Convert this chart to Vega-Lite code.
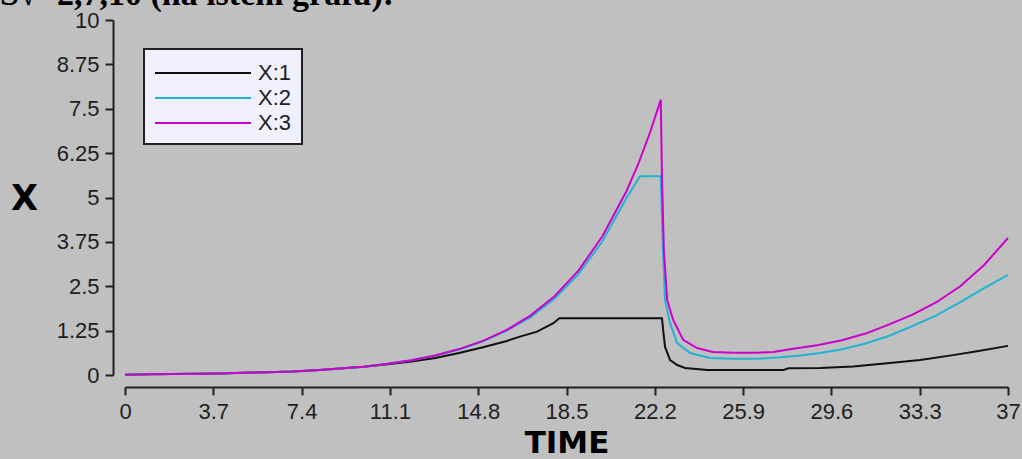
{
  "$schema": "https://vega.github.io/schema/vega-lite/v6.json",
  "autosize": {"type": "none"},
  "width": 883,
  "height": 355,
  "padding": {"left": 125, "top": 20, "right": 14, "bottom": 84},
  "background": "#c0c0c0",
  "title": {
    "text": "S√=2,7,10 (na istem grafu):",
    "anchor": "start",
    "frame": "group",
    "font": "Liberation Serif",
    "fontSize": 34,
    "fontWeight": "bold",
    "color": "#000000",
    "dx": -125,
    "dy": 30,
    "offset": 0,
    "baseline": "alphabetic"
  },
  "data": {
    "values": [
      {"t": 0, "s": "X:1", "v": 0.01}, {"t": 1, "s": "X:1", "v": 0.02}, {"t": 2, "s": "X:1", "v": 0.025}, {"t": 3, "s": "X:1", "v": 0.035},
      {"t": 4, "s": "X:1", "v": 0.045}, {"t": 5, "s": "X:1", "v": 0.06}, {"t": 6, "s": "X:1", "v": 0.08}, {"t": 7, "s": "X:1", "v": 0.1},
      {"t": 8, "s": "X:1", "v": 0.135}, {"t": 9, "s": "X:1", "v": 0.18}, {"t": 10, "s": "X:1", "v": 0.23}, {"t": 11, "s": "X:1", "v": 0.3},
      {"t": 12, "s": "X:1", "v": 0.38}, {"t": 13, "s": "X:1", "v": 0.48}, {"t": 14, "s": "X:1", "v": 0.62}, {"t": 15, "s": "X:1", "v": 0.78},
      {"t": 16, "s": "X:1", "v": 0.96}, {"t": 16.55, "s": "X:1", "v": 1.08}, {"t": 17.27, "s": "X:1", "v": 1.22}, {"t": 17.95, "s": "X:1", "v": 1.46},
      {"t": 18.2, "s": "X:1", "v": 1.6}, {"t": 22.5, "s": "X:1", "v": 1.6}, {"t": 22.55, "s": "X:1", "v": 1.27}, {"t": 22.63, "s": "X:1", "v": 0.79},
      {"t": 22.84, "s": "X:1", "v": 0.42}, {"t": 23.14, "s": "X:1", "v": 0.28}, {"t": 23.47, "s": "X:1", "v": 0.2}, {"t": 24.4, "s": "X:1", "v": 0.14},
      {"t": 27.6, "s": "X:1", "v": 0.14}, {"t": 27.8, "s": "X:1", "v": 0.19}, {"t": 29.13, "s": "X:1", "v": 0.2}, {"t": 30.51, "s": "X:1", "v": 0.24},
      {"t": 31.94, "s": "X:1", "v": 0.33}, {"t": 33.32, "s": "X:1", "v": 0.42}, {"t": 34.7, "s": "X:1", "v": 0.56}, {"t": 35.83, "s": "X:1", "v": 0.68},
      {"t": 37, "s": "X:1", "v": 0.82},

      {"t": 0, "s": "X:2", "v": 0.01}, {"t": 1, "s": "X:2", "v": 0.02}, {"t": 2, "s": "X:2", "v": 0.025}, {"t": 3, "s": "X:2", "v": 0.035},
      {"t": 4, "s": "X:2", "v": 0.045}, {"t": 5, "s": "X:2", "v": 0.06}, {"t": 6, "s": "X:2", "v": 0.08}, {"t": 7, "s": "X:2", "v": 0.1},
      {"t": 8, "s": "X:2", "v": 0.135}, {"t": 9, "s": "X:2", "v": 0.18}, {"t": 10, "s": "X:2", "v": 0.235}, {"t": 11, "s": "X:2", "v": 0.315},
      {"t": 12, "s": "X:2", "v": 0.415}, {"t": 13, "s": "X:2", "v": 0.55}, {"t": 14, "s": "X:2", "v": 0.72}, {"t": 15, "s": "X:2", "v": 0.95},
      {"t": 16, "s": "X:2", "v": 1.25}, {"t": 17, "s": "X:2", "v": 1.63}, {"t": 18, "s": "X:2", "v": 2.15}, {"t": 19, "s": "X:2", "v": 2.84},
      {"t": 20, "s": "X:2", "v": 3.76}, {"t": 21, "s": "X:2", "v": 4.97}, {"t": 21.58, "s": "X:2", "v": 5.6}, {"t": 22.45, "s": "X:2", "v": 5.6},
      {"t": 22.5, "s": "X:2", "v": 4.4}, {"t": 22.55, "s": "X:2", "v": 3.4}, {"t": 22.63, "s": "X:2", "v": 2.11}, {"t": 22.84, "s": "X:2", "v": 1.46},
      {"t": 23.14, "s": "X:2", "v": 0.9}, {"t": 23.68, "s": "X:2", "v": 0.62}, {"t": 24.52, "s": "X:2", "v": 0.48}, {"t": 25.5, "s": "X:2", "v": 0.46},
      {"t": 26.5, "s": "X:2", "v": 0.46}, {"t": 27.45, "s": "X:2", "v": 0.5}, {"t": 28.3, "s": "X:2", "v": 0.55}, {"t": 29.13, "s": "X:2", "v": 0.62},
      {"t": 30, "s": "X:2", "v": 0.72}, {"t": 31, "s": "X:2", "v": 0.88}, {"t": 32, "s": "X:2", "v": 1.1}, {"t": 33, "s": "X:2", "v": 1.38},
      {"t": 34, "s": "X:2", "v": 1.68}, {"t": 35, "s": "X:2", "v": 2.05}, {"t": 36, "s": "X:2", "v": 2.45}, {"t": 37, "s": "X:2", "v": 2.82},

      {"t": 0, "s": "X:3", "v": 0.01}, {"t": 1, "s": "X:3", "v": 0.02}, {"t": 2, "s": "X:3", "v": 0.025}, {"t": 3, "s": "X:3", "v": 0.035},
      {"t": 4, "s": "X:3", "v": 0.045}, {"t": 5, "s": "X:3", "v": 0.06}, {"t": 6, "s": "X:3", "v": 0.08}, {"t": 7, "s": "X:3", "v": 0.1},
      {"t": 8, "s": "X:3", "v": 0.135}, {"t": 9, "s": "X:3", "v": 0.18}, {"t": 10, "s": "X:3", "v": 0.235}, {"t": 11, "s": "X:3", "v": 0.315},
      {"t": 12, "s": "X:3", "v": 0.415}, {"t": 13, "s": "X:3", "v": 0.55}, {"t": 14, "s": "X:3", "v": 0.73}, {"t": 15, "s": "X:3", "v": 0.96},
      {"t": 16, "s": "X:3", "v": 1.27}, {"t": 17, "s": "X:3", "v": 1.68}, {"t": 18, "s": "X:3", "v": 2.22}, {"t": 19, "s": "X:3", "v": 2.94},
      {"t": 20, "s": "X:3", "v": 3.9}, {"t": 21, "s": "X:3", "v": 5.16}, {"t": 21.5, "s": "X:3", "v": 5.93}, {"t": 22, "s": "X:3", "v": 6.83},
      {"t": 22.45, "s": "X:3", "v": 7.75}, {"t": 22.5, "s": "X:3", "v": 5.6}, {"t": 22.58, "s": "X:3", "v": 3.5}, {"t": 22.72, "s": "X:3", "v": 2.11},
      {"t": 22.97, "s": "X:3", "v": 1.55}, {"t": 23.39, "s": "X:3", "v": 0.99}, {"t": 23.97, "s": "X:3", "v": 0.76}, {"t": 24.64, "s": "X:3", "v": 0.65},
      {"t": 25.5, "s": "X:3", "v": 0.63}, {"t": 26.5, "s": "X:3", "v": 0.63}, {"t": 27.16, "s": "X:3", "v": 0.65}, {"t": 28, "s": "X:3", "v": 0.74},
      {"t": 29, "s": "X:3", "v": 0.84}, {"t": 30, "s": "X:3", "v": 0.97}, {"t": 31, "s": "X:3", "v": 1.16}, {"t": 32, "s": "X:3", "v": 1.42},
      {"t": 33, "s": "X:3", "v": 1.7}, {"t": 34, "s": "X:3", "v": 2.05}, {"t": 35, "s": "X:3", "v": 2.5}, {"t": 36, "s": "X:3", "v": 3.1},
      {"t": 37, "s": "X:3", "v": 3.86}
    ]
  },
  "mark": {"type": "line", "strokeWidth": 2, "interpolate": "linear"},
  "encoding": {
    "x": {
      "field": "t",
      "type": "quantitative",
      "scale": {"domain": [0, 37], "nice": false, "zero": false},
      "axis": {
        "title": "TIME",
        "values": [0, 3.7, 7.4, 11.1, 14.8, 18.5, 22.2, 25.9, 29.6, 33.3, 37],
        "labelExpr": "'' + datum.value",
        "offset": 12,
        "grid": false,
        "domainColor": "#202020",
        "domainWidth": 2,
        "tickColor": "#202020",
        "tickWidth": 2,
        "tickSize": 8,
        "labelFont": "Liberation Sans",
        "labelFontSize": 22,
        "labelColor": "#202020",
        "labelPadding": 6,
        "labelFlush": false,
        "labelOverlap": false,
        "labelBound": false,
        "titleFont": "DejaVu Sans",
        "titleFontSize": 31,
        "titleFontWeight": "bold",
        "titleColor": "#000000",
        "titlePadding": 6
      }
    },
    "y": {
      "field": "v",
      "type": "quantitative",
      "scale": {"domain": [0, 10], "nice": false},
      "axis": {
        "title": "X",
        "values": [0, 1.25, 2.5, 3.75, 5, 6.25, 7.5, 8.75, 10],
        "labelExpr": "'' + datum.value",
        "offset": 12,
        "grid": false,
        "domainColor": "#202020",
        "domainWidth": 2,
        "tickColor": "#202020",
        "tickWidth": 2,
        "tickSize": 8,
        "labelFont": "Liberation Sans",
        "labelFontSize": 22,
        "labelColor": "#202020",
        "labelPadding": 6,
        "labelFlush": false,
        "labelOverlap": false,
        "labelBound": false,
        "titleFont": "DejaVu Sans",
        "titleFontSize": 35,
        "titleFontWeight": "bold",
        "titleColor": "#000000",
        "titleAngle": 0,
        "titleAlign": "center",
        "titleBaseline": "middle",
        "titleX": -89,
        "titleY": 178
      }
    },
    "color": {
      "field": "s",
      "type": "nominal",
      "scale": {"domain": ["X:1", "X:2", "X:3"], "range": ["#101010", "#20b4d2", "#cc00cc"]},
      "legend": {
        "title": null,
        "orient": "none",
        "legendX": 19,
        "legendY": 29,
        "symbolType": "M-1,0H6.385",
        "symbolSize": 676,
        "symbolStrokeWidth": 2,
        "labelFont": "Liberation Sans",
        "labelFontSize": 22,
        "labelColor": "#202020",
        "labelOffset": 76,
        "padding": 10,
        "rowPadding": 0,
        "fillColor": "#f0f0ff",
        "strokeColor": "#202020",
        "encode": {"legend": {"update": {"strokeWidth": {"value": 2}}}}
      }
    }
  },
  "config": {"view": {"stroke": null}}
}
